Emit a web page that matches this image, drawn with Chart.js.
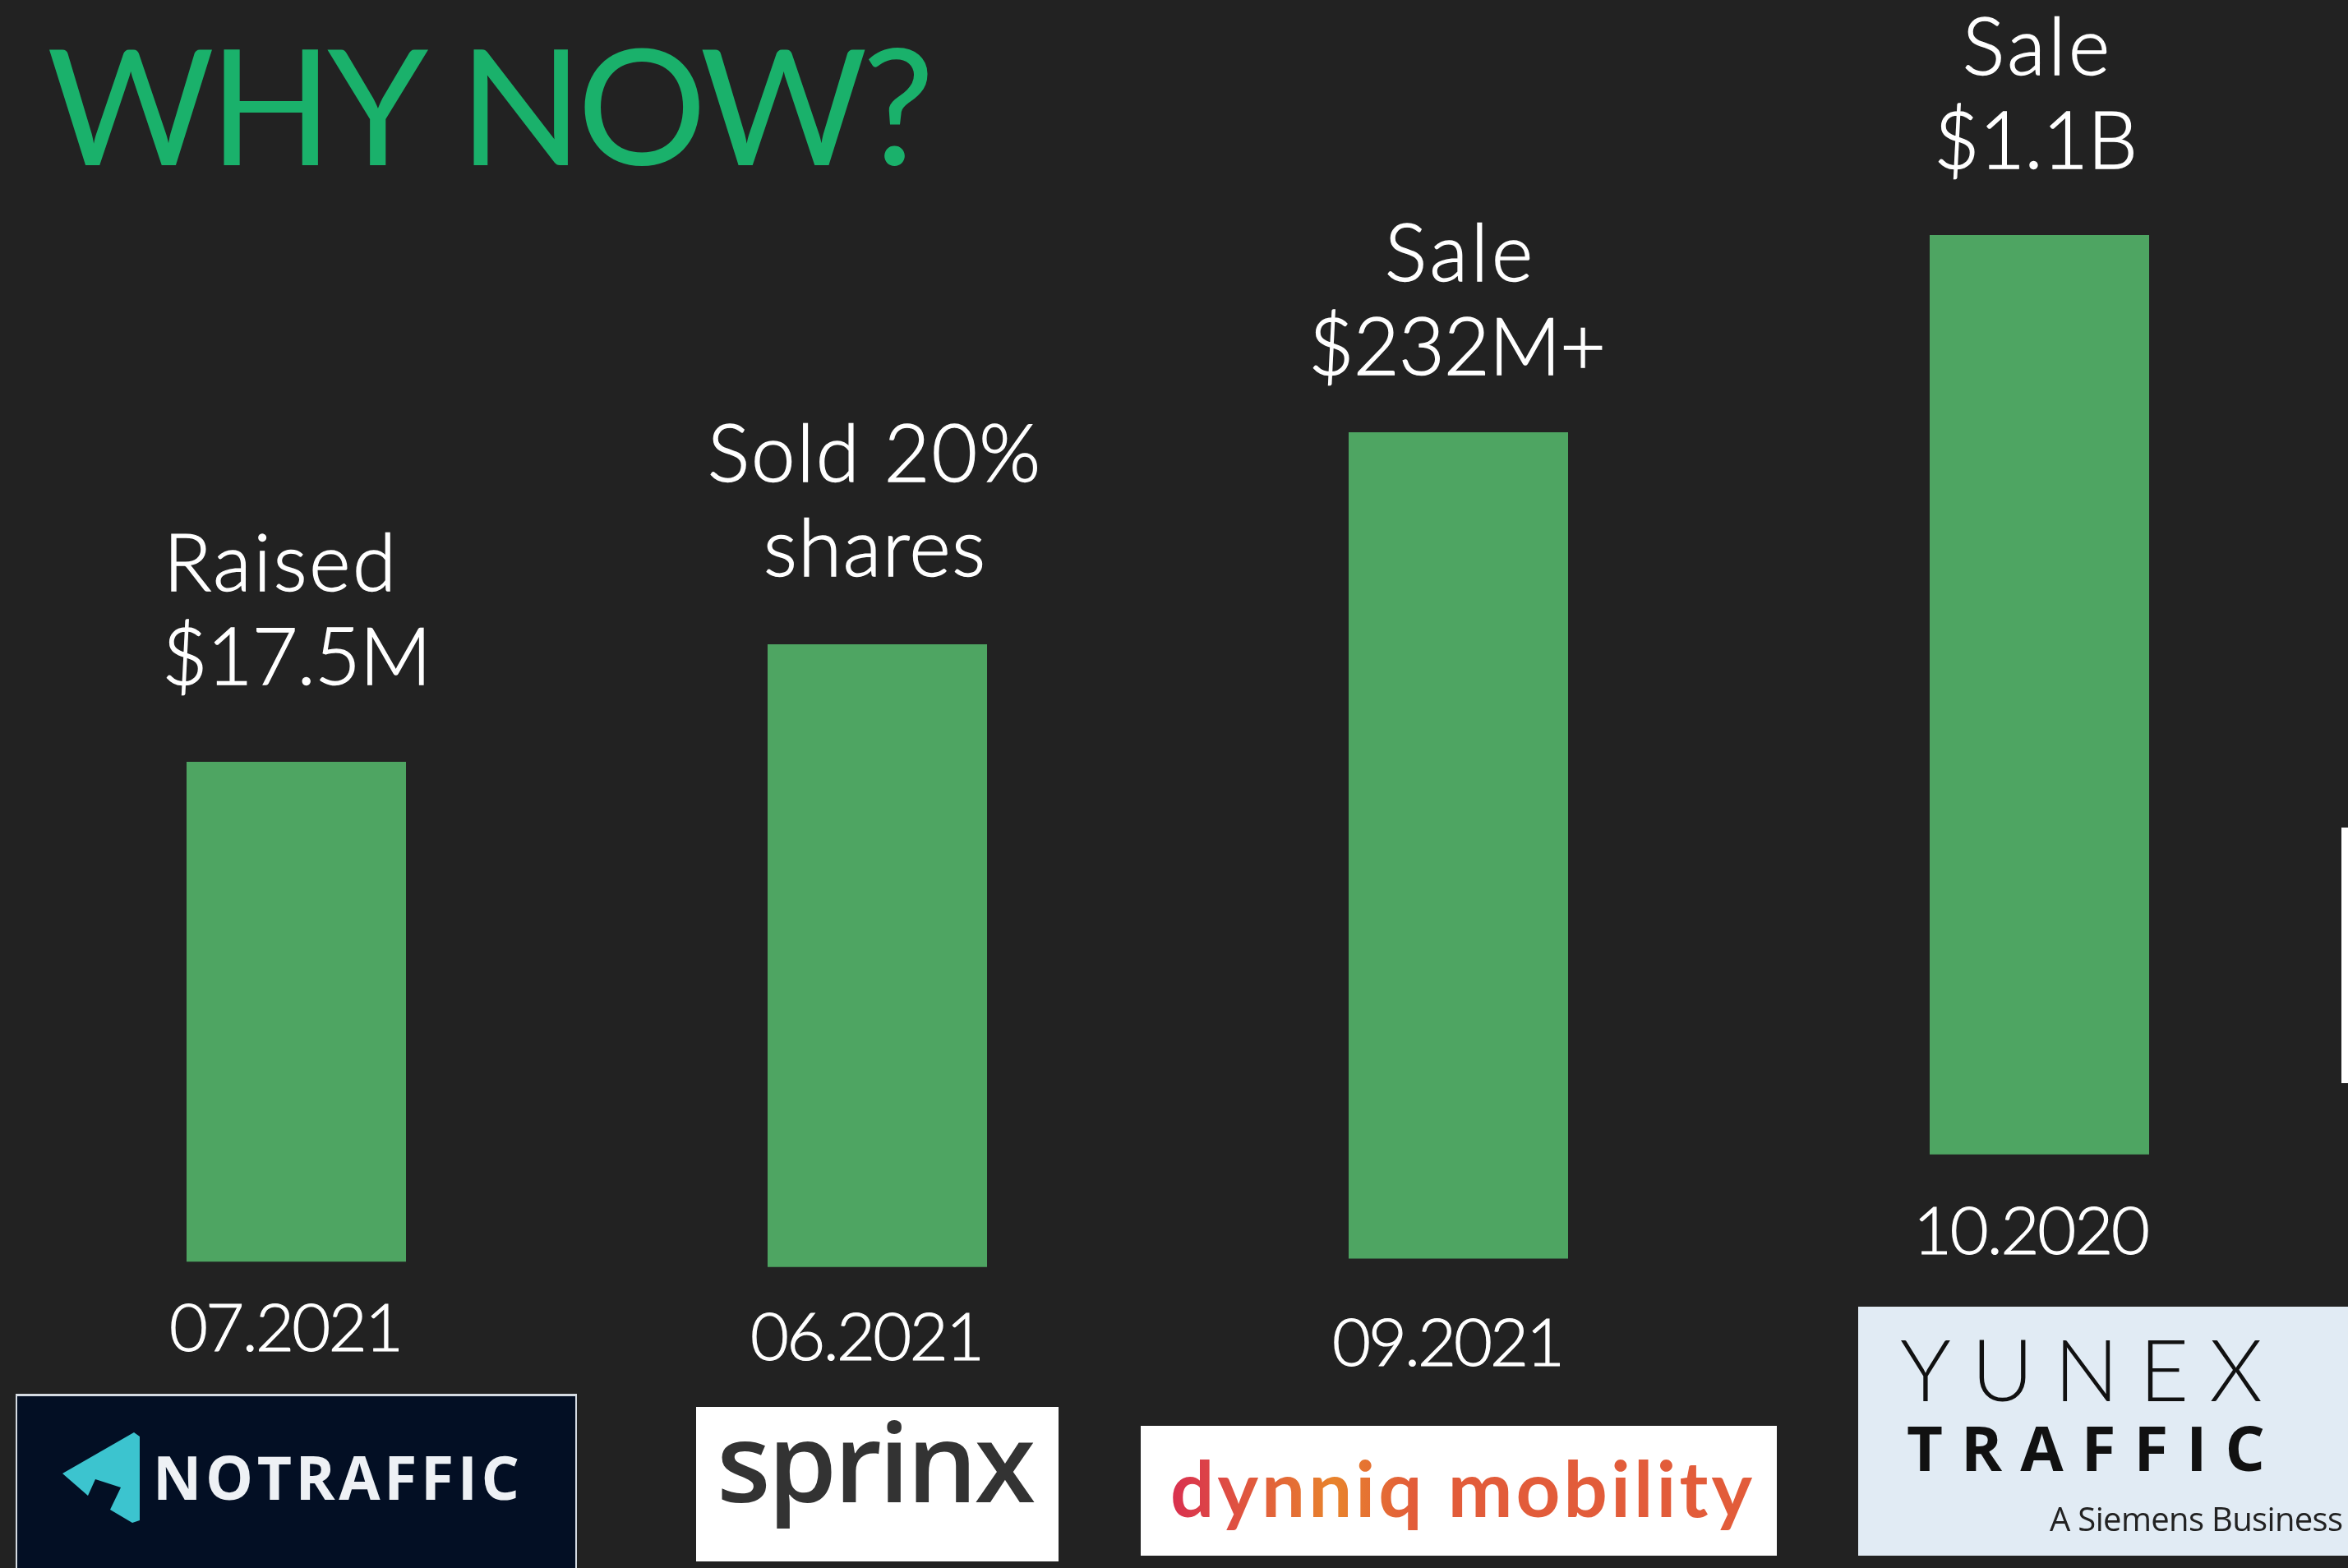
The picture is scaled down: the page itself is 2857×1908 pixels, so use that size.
<!DOCTYPE html>
<html>
<head>
<meta charset="utf-8">
<title>Why now?</title>
<script src="https://cdn.jsdelivr.net/npm/chart.js@4"></script>
<style>
  html, body { margin: 0; padding: 0; background: #222222; overflow: hidden; }
  canvas { display: block; }
</style>
</head>
<body>
<canvas id="whyNow" width="2857" height="1908"></canvas>
<script>
const categories = ['07.2021', '06.2021', '09.2021', '10.2020'];
const barBottoms = [19.54, 19.2, 19.73, 26.38];
const barTops = [51.42, 58.91, 72.43, 85.01];
const barLabels = [
  ['Raised', '$17.5M'],
  ['Sold 20%', 'shares'],
  ['Sale', '$232M+'],
  ['Sale', '$1.1B'],
];

const LIGHT = '300 96px Lato, sans-serif';
const DATE_FONT = '300 81px Lato, sans-serif';

// [left, baseline, width] of each text line
const labelSpots = [
  [[199, 719, 283], [197, 833, 328]],
  [[861, 586, 405], [929, 701, 270]],
  [[1685, 342, 180], [1592, 456, 362]],
  [[2388, 91, 179], [2353, 205, 248]],
];
const dateSpots = [[206, 1644, 285], [913, 1655, 285], [1621, 1662, 283], [2328, 1526, 288]];

// draws text so that it fills the given width, heavy thickens thin fonts
function fitText(ctx, str, x, y, width, font, color, heavy) {
  ctx.font = font;
  ctx.letterSpacing = '0px';
  const gap = (width - ctx.measureText(str).width) / Math.max(str.length - 1, 1);
  ctx.letterSpacing = gap.toFixed(2) + 'px';
  ctx.fillStyle = color;
  ctx.textAlign = 'left';
  ctx.textBaseline = 'alphabetic';
  ctx.fillText(str, x, y);
  if (heavy) {
    ctx.strokeStyle = color;
    ctx.lineWidth = heavy;
    ctx.strokeText(str, x, y);
  }
  ctx.letterSpacing = '0px';
}

function drawLogos(ctx) {
  // notraffic
  ctx.fillStyle = '#d5dbe2';
  ctx.fillRect(19, 1696, 683, 212);
  ctx.fillStyle = '#030f24';
  ctx.fillRect(21, 1699, 679, 209);
  ctx.fillStyle = '#3cc4cf';
  ctx.beginPath();
  [[163, 1743], [170, 1748], [170, 1850], [161, 1853], [134, 1837], [147, 1810], [116, 1800], [107, 1820], [76, 1793]]
    .forEach((p, i) => (i ? ctx.lineTo(p[0], p[1]) : ctx.moveTo(p[0], p[1])));
  ctx.closePath();
  ctx.fill();
  fitText(ctx, 'NOTRAFFIC', 186, 1825, 446, '700 73px "Open Sans", sans-serif', '#eef1f5');

  // sprinx
  ctx.fillStyle = '#ffffff';
  ctx.fillRect(847, 1712, 441, 188);
  fitText(ctx, 'sprinx', 872, 1828, 388, '600 135px "Open Sans", sans-serif', '#333333');

  // dynniq mobility
  ctx.fillStyle = '#ffffff';
  ctx.fillRect(1388, 1735, 774, 158);
  const grad = ctx.createLinearGradient(1425, 0, 2130, 0);
  grad.addColorStop(0, '#d9304f');
  grad.addColorStop(0.28, '#e8832c');
  grad.addColorStop(0.42, '#e25c3a');
  grad.addColorStop(1, '#e25c3a');
  fitText(ctx, 'dynniq mobility', 1424, 1846, 708, '700 94px Lato, sans-serif', grad);

  // yunex
  ctx.fillStyle = '#e1ebf4';
  ctx.fillRect(2261, 1590, 596, 303);
  fitText(ctx, 'YUNEX', 2312, 1705, 441, '300 104px Lato, sans-serif', '#111111');
  fitText(ctx, 'TRAFFIC', 2320, 1790, 436, '700 76px "Open Sans", sans-serif', '#111111');
  fitText(ctx, 'A Siemens Business', 2494, 1863, 357, '400 40px "Open Sans", sans-serif', '#222222');

  // sliver of something at the right edge
  ctx.fillStyle = '#ffffff';
  ctx.fillRect(2849, 1007, 8, 311);
}

const slideText = {
  id: 'slideText',
  afterDraw(chart) {
    const ctx = chart.ctx;
    ctx.save();
    fitText(ctx, 'WHY NOW?', 57, 201, 1080, '400 197px Lato, sans-serif', '#1ab16b');
    barLabels.forEach((lines, i) => {
      lines.forEach((line, j) => {
        const s = labelSpots[i][j];
        fitText(ctx, line, s[0], s[1], s[2], LIGHT, '#ffffff', 1.4);
      });
    });
    categories.forEach((date, i) => {
      const s = dateSpots[i];
      fitText(ctx, date, s[0], s[1], s[2], DATE_FONT, '#ffffff', 1.2);
    });
    drawLogos(ctx);
    ctx.restore();
  },
};

new Chart(document.getElementById('whyNow').getContext('2d'), {
  type: 'bar',
  data: {
    labels: categories,
    datasets: [
      {
        data: barBottoms.map((low, i) => [low, barTops[i]]),
        backgroundColor: '#4ea562',
        borderWidth: 0,
        categoryPercentage: 1,
        barPercentage: 0.3777,
      },
    ],
  },
  options: {
    responsive: false,
    animation: false,
    layout: { padding: { left: 7, right: 22, top: 0, bottom: 0 } },
    plugins: { legend: { display: false }, tooltip: { enabled: false } },
    scales: {
      x: { display: false },
      y: { display: false, min: 0, max: 100 },
    },
  },
  plugins: [slideText],
});
</script>
</body>
</html>
